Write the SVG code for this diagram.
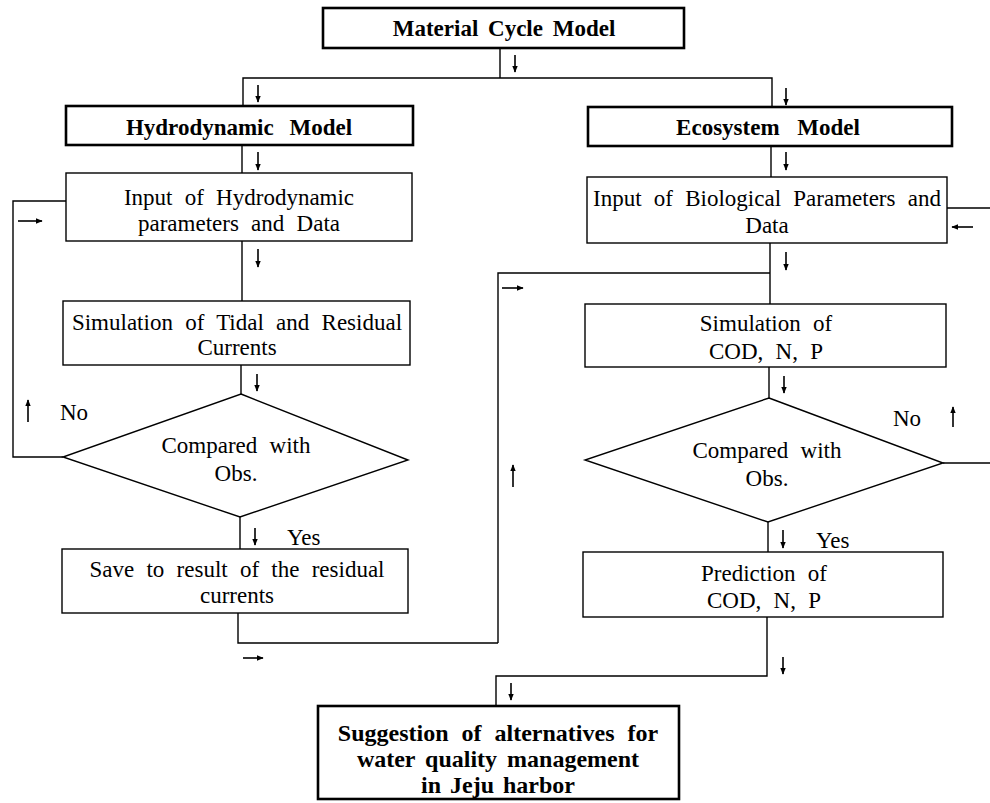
<svg xmlns="http://www.w3.org/2000/svg" width="990" height="803" viewBox="0 0 990 803">
<defs>
<marker id="ah" viewBox="0 0 10 10" refX="9" refY="5" markerWidth="7" markerHeight="7" markerUnits="userSpaceOnUse" orient="auto"><path d="M0,1 L10,5 L0,9 z" fill="#000"/></marker>
</defs>
<style>
text{font-family:"Liberation Serif","Times New Roman",serif;font-size:23px;fill:#000;text-anchor:middle;word-spacing:6.5px}
.b{font-weight:bold;word-spacing:7px}
.l{text-anchor:start}
.box{fill:#fff;stroke:#000;stroke-width:1.4}
.tb{fill:#fff;stroke:#000;stroke-width:2.6}
.ln{fill:none;stroke:#000;stroke-width:1.4}
.ar{fill:none;stroke:#000;stroke-width:1.6;marker-end:url(#ah)}
</style>
<rect width="990" height="803" fill="#fff"/>
<g id="connectors">
<path class="ln" d="M500,48 V78 M243,106 V78 H772 V107"/>
<path class="ln" d="M242,145 V173"/>
<path class="ln" d="M771,145 V177"/>
<path class="ln" d="M242,241 V301"/>
<path class="ln" d="M770,243 V305 M498,643 V273 H770"/>
<path class="ln" d="M241,365 V394"/>
<path class="ln" d="M769,367 V398"/>
<path class="ln" d="M240,517 V549"/>
<path class="ln" d="M768,522 V552"/>
<path class="ln" d="M63,457 H13 V201 H66"/>
<path class="ln" d="M943,463 H990 M990,208 H947"/>
<path class="ln" d="M238,613 V643 H498"/>
<path class="ln" d="M767,617 V676 H496 V706"/>
<path class="ar" d="M515,55 V72"/>
<path class="ar" d="M258,85 V102"/>
<path class="ar" d="M786,88 V105"/>
<path class="ar" d="M258,152 V170"/>
<path class="ar" d="M786,152 V170"/>
<path class="ar" d="M18,221 H42"/>
<path class="ar" d="M258,249 V267"/>
<path class="ar" d="M973,227 H952"/>
<path class="ar" d="M786,252 V270"/>
<path class="ar" d="M502,288 H523"/>
<path class="ar" d="M257,374 V391"/>
<path class="ar" d="M784,376 V393"/>
<path class="ar" d="M28,422 V400"/>
<path class="ar" d="M953,427 V407"/>
<path class="ar" d="M513,487 V465"/>
<path class="ar" d="M255,528 V545"/>
<path class="ar" d="M783,530 V548"/>
<path class="ar" d="M243,658 H263"/>
<path class="ar" d="M783,657 V674"/>
<path class="ar" d="M511,683 V700"/>
<text class="l" x="60" y="420">No</text>
<text class="l" x="893" y="426">No</text>
<text class="l" x="287" y="545">Yes</text>
<text class="l" x="816" y="548">Yes</text>
</g>
<g id="material">
<rect class="tb" x="323" y="8" width="361" height="40"/>
<text class="b" x="504" y="36" style="word-spacing:4px">Material Cycle Model</text>
</g>
<g id="hydro">
<rect class="tb" x="66" y="106" width="347" height="39"/>
<text class="b" x="239" y="135" style="word-spacing:10px">Hydrodynamic Model</text>
</g>
<g id="eco">
<rect class="tb" x="588" y="107" width="364" height="39"/>
<text class="b" x="768" y="135" style="word-spacing:12px">Ecosystem Model</text>
</g>
<g id="input-hydro">
<rect class="box" x="66" y="173" width="346" height="68"/>
<text x="239" y="205">Input of Hydrodynamic</text>
<text x="239" y="231">parameters and Data</text>
</g>
<g id="input-bio">
<rect class="box" x="587" y="177" width="360" height="66"/>
<text x="767" y="206">Input of Biological Parameters and</text>
<text x="767" y="233">Data</text>
</g>
<g id="sim-tidal">
<rect class="box" x="63" y="301" width="347" height="64"/>
<text x="237" y="330">Simulation of Tidal and Residual</text>
<text x="237" y="355">Currents</text>
</g>
<g id="sim-cod">
<rect class="box" x="585" y="304" width="361" height="63"/>
<text x="766" y="331">Simulation of</text>
<text x="766" y="359">COD, N, P</text>
</g>
<g id="cmp-left">
<polygon class="box" points="241,394 408,460 240,517 63,457"/>
<text x="236" y="453">Compared with</text>
<text x="236" y="481">Obs.</text>
</g>
<g id="cmp-right">
<polygon class="box" points="769,398 943,463 768,522 585,460"/>
<text x="767" y="458">Compared with</text>
<text x="767" y="486">Obs.</text>
</g>
<g id="save">
<rect class="box" x="62" y="549" width="346" height="64"/>
<text x="237" y="577">Save to result of the residual</text>
<text x="237" y="603">currents</text>
</g>
<g id="prediction">
<rect class="box" x="583" y="552" width="360" height="65"/>
<text x="764" y="581">Prediction of</text>
<text x="764" y="608">COD, N, P</text>
</g>
<g id="suggestion">
<rect class="tb" x="318" y="706" width="361" height="93"/>
<text class="b" x="498" y="741" style="font-size:24px">Suggestion of alternatives for</text>
<text class="b" x="498" y="767" style="font-size:24px;word-spacing:4px">water quality management</text>
<text class="b" x="498" y="793" style="font-size:24px;word-spacing:3px">in Jeju harbor</text>
</g>
</svg>
